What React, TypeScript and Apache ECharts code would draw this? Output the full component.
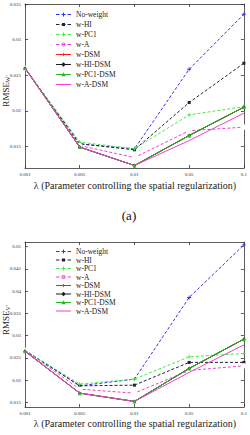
import React, { useEffect, useRef } from 'react';
import * as echarts from 'echarts';

const categories = ['0.001', '0.005', '0.01', '0.05', '0.1'];
const seriesNames = ['No-weight', 'w-HI', 'w-PC1', 'w-A', 'w-DSM', 'w-HI-DSM', 'w-PC1-DSM', 'w-A-DSM'];

// Chart (a)
const noWeightA = [0.026, 0.01539, 0.01469, 0.02585, 0.03356];
const wHIA = [0.026, 0.01539, 0.01455, 0.02118, 0.02669];
const wPC1A = [0.026, 0.01563, 0.01469, 0.01945, 0.0206];
const wAA = [0.026, 0.01515, 0.01347, 0.01722, 0.01773];
const wDSMA = [0.026, 0.01493, 0.01235, 0.01656, 0.02053];
const wHIDSMA = [0.026, 0.01493, 0.01235, 0.01656, 0.02053];
const wPC1DSMA = [0.026, 0.01493, 0.01235, 0.01656, 0.02053];
const wADSMA = [0.026, 0.01493, 0.01235, 0.01585, 0.01969];
const yTicksA = [0.015, 0.02, 0.025, 0.03, 0.035];

// Chart (b)
const noWeightB = [0.0267, 0.01875, 0.02025, 0.03856, 0.05036];
const wHIB = [0.0267, 0.01875, 0.0189, 0.024, 0.024];
const wPC1B = [0.0267, 0.01913, 0.02025, 0.02525, 0.02601];
const wAB = [0.0267, 0.018, 0.01711, 0.0222, 0.02323];
const wDSMB = [0.0265, 0.01711, 0.01525, 0.02265, 0.02922];
const wHIDSMB = [0.0265, 0.01711, 0.01525, 0.02265, 0.02922];
const wPC1DSMB = [0.0265, 0.01711, 0.01525, 0.02265, 0.02922];
const wADSMB = [0.0265, 0.01711, 0.01525, 0.02175, 0.02794];
const yTicksB = [0.015, 0.02, 0.025, 0.03, 0.035, 0.04, 0.045, 0.05];

const FONT = "'Liberation Serif', 'Times New Roman', serif";
const PLUS = 'path://M4,0 L6,0 L6,4 L10,4 L10,6 L6,6 L6,10 L4,10 L4,6 L0,6 L0,4 L4,4 Z';
const ASTER = 'path://M5,0 L6.2,3.8 L10,5 L6.2,6.2 L5,10 L3.8,6.2 L0,5 L3.8,3.8 Z';

// Legend icons, drawn in a 30 x 14 box (line + marker)
const BOX = 'M15,0 L15,0 Z M15,14 L15,14 Z ';
const SOLID_L = 'M0,6 L30,6 L30,8 L0,8 Z ';
const DASH_L = 'M0,6 L7,6 L7,8 L0,8 Z M11,6 L19,6 L19,8 L11,8 Z M23,6 L30,6 L30,8 L23,8 Z ';
const I_PLUS = 'M14,3 L16,3 L16,6 L19,6 L19,8 L16,8 L16,11 L14,11 L14,8 L11,8 L11,6 L14,6 Z';
const I_RECT = 'M12,4 L18,4 L18,10 L12,10 Z';
const I_RING = 'M11,7 A4,4 0 1,1 19,7 A4,4 0 1,1 11,7 Z M12.6,7 A2.4,2.4 0 1,0 17.4,7 A2.4,2.4 0 1,0 12.6,7 Z';
const I_STAR = 'M15,3 L16.2,5.8 L19,7 L16.2,8.2 L15,11 L13.8,8.2 L11,7 L13.8,5.8 Z';
const I_DIAM = 'M15,2.5 L19.5,7 L15,11.5 L10.5,7 Z';
const I_TRI = 'M15,2.5 L19.5,10.5 L10.5,10.5 Z';

const styles = [
  { color: '#2f2fff', type: 'dashed', symbol: PLUS, size: 4, icon: BOX + DASH_L + I_PLUS },
  { color: '#22223a', type: 'dashed', symbol: 'rect', size: 3, icon: BOX + DASH_L + I_RECT },
  { color: '#44ee44', type: 'dashed', symbol: PLUS, size: 4, icon: BOX + DASH_L + I_PLUS },
  { color: '#f040d0', type: 'dashed', symbol: 'emptyCircle', size: 3.5, icon: BOX + DASH_L + I_RING },
  { color: '#ff1a1a', type: 'solid', symbol: ASTER, size: 4, icon: BOX + SOLID_L + I_STAR },
  { color: '#1a1a2a', type: 'solid', symbol: 'diamond', size: 3.5, icon: BOX + SOLID_L + I_DIAM },
  { color: '#22bb22', type: 'solid', symbol: 'triangle', size: 4, icon: BOX + SOLID_L + I_TRI },
  { color: '#f040d0', type: 'solid', symbol: 'none', size: 0, icon: BOX + SOLID_L },
];

const dataA = [noWeightA, wHIA, wPC1A, wAA, wDSMA, wHIDSMA, wPC1DSMA, wADSMA];
const dataB = [noWeightB, wHIB, wPC1B, wAB, wDSMB, wHIDSMB, wPC1DSMB, wADSMB];

const axisLineStyle = { color: '#333', width: 0.8 };

function xAxes(gridIndex: number) {
  return [
    {
      gridIndex,
      type: 'category',
      data: categories,
      boundaryGap: false,
      axisLine: { lineStyle: axisLineStyle },
      axisTick: { inside: true, length: 3, lineStyle: axisLineStyle },
      axisLabel: { fontSize: 5, color: '#333', margin: 4, fontFamily: FONT },
      splitLine: { show: false },
    },
    {
      gridIndex,
      type: 'category',
      position: 'top',
      data: categories,
      boundaryGap: false,
      axisLine: { lineStyle: axisLineStyle },
      axisTick: { inside: true, length: 3, lineStyle: axisLineStyle },
      axisLabel: { show: false },
      splitLine: { show: false },
    },
  ];
}

function yAxes(gridIndex: number, min: number, max: number, ticks: number[]) {
  return [
    {
      gridIndex,
      type: 'value',
      min,
      max,
      axisLine: { show: true, lineStyle: axisLineStyle },
      axisTick: { show: true, inside: true, length: 3, lineStyle: axisLineStyle, customValues: ticks },
      axisLabel: { fontSize: 5, color: '#333', margin: 4, fontFamily: FONT, customValues: ticks },
      splitLine: { show: false },
    },
    {
      gridIndex,
      type: 'value',
      position: 'right',
      min,
      max,
      axisLine: { show: true, lineStyle: axisLineStyle },
      axisTick: { show: true, inside: true, length: 3, lineStyle: axisLineStyle, customValues: ticks },
      axisLabel: { show: false, customValues: ticks },
      splitLine: { show: false },
    },
  ];
}

function makeSeries(data: number[][], axisIndex: number) {
  return data.map((d, i) => {
    const s = styles[i];
    return {
      name: seriesNames[i],
      type: 'line',
      xAxisIndex: axisIndex,
      yAxisIndex: axisIndex,
      data: d,
      symbol: s.symbol,
      symbolSize: s.size,
      showSymbol: s.symbol !== 'none',
      lineStyle: { color: s.color, width: 1, type: s.type === 'dashed' ? [3, 2] : 'solid' },
      itemStyle: {
        color: s.symbol === 'emptyCircle' ? '#fff' : s.color,
        borderColor: s.color,
        borderWidth: s.symbol === 'emptyCircle' ? 0.9 : 0,
      },
      z: 2 + i,
    };
  });
}

function legendFor(top: number, gap: number) {
  return {
    orient: 'vertical',
    left: 56,
    top,
    padding: 0,
    itemGap: gap,
    itemWidth: 15,
    itemHeight: 7,
    symbolKeepAspect: false,
    itemStyle: { borderWidth: 0 },
    data: seriesNames.map((n, i) => ({
      name: n,
      icon: 'path://' + styles[i].icon,
      itemStyle: { color: styles[i].color, borderWidth: 0 },
    })),
    textStyle: { fontFamily: FONT, fontSize: 7.5, color: '#222', lineHeight: 7 },
  };
}

function yName(x: number, y: number, sub: string) {
  return {
    type: 'text',
    x,
    y,
    rotation: Math.PI / 2,
    style: {
      text: 'RMSE{s|' + sub + '}',
      fontFamily: FONT,
      fontSize: 9,
      fill: '#222',
      align: 'center',
      verticalAlign: 'middle',
      rich: { s: { fontSize: 6, fontFamily: FONT, fill: '#222', verticalAlign: 'bottom' } },
    },
  };
}

export default function App() {
  const ref = useRef<HTMLDivElement>(null);
  useEffect(() => {
    if (!ref.current) return;
    const chart = echarts.init(ref.current, null, { renderer: 'svg' });
    const xName = 'λ (Parameter controlling the spatial regularization)';
    chart.setOption({
      animation: false,
      backgroundColor: '#fff',
      grid: [
        { left: 25, top: 4, width: 219, height: 164 },
        { left: 25, top: 242, width: 219, height: 165 },
      ],
      xAxis: [...xAxes(0), ...xAxes(1)],
      yAxis: [...yAxes(0, 0.012, 0.035, yTicksA), ...yAxes(1, 0.014, 0.051, yTicksB)],
      legend: [legendFor(10.5, 2), legendFor(247.5, 0.5)],
      series: [...makeSeries(dataA, 0), ...makeSeries(dataB, 2)],
      graphic: [
        yName(6, 91, "W'"),
        yName(6, 320, "V'"),
        {
          type: 'text',
          x: 135,
          y: 185,
          style: { text: xName, fontFamily: FONT, fontSize: 10, fill: '#222', align: 'center', verticalAlign: 'middle' },
        },
        {
          type: 'text',
          x: 135,
          y: 423,
          style: { text: xName, fontFamily: FONT, fontSize: 10, fill: '#222', align: 'center', verticalAlign: 'middle' },
        },
        {
          type: 'text',
          x: 129,
          y: 215,
          style: { text: '(a)', fontFamily: FONT, fontSize: 13, fill: '#111', align: 'center', verticalAlign: 'middle' },
        },
      ],
    });
    return () => chart.dispose();
  }, []);
  return <div ref={ref} style={{ position: 'absolute', left: 0, top: 0, width: 250, height: 435 }} />;
}
